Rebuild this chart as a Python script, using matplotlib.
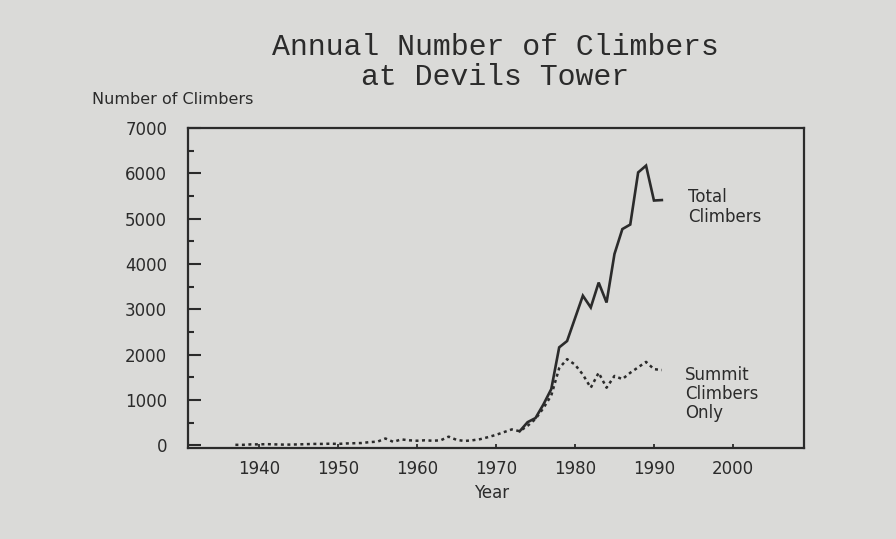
import matplotlib.pyplot as plt
from matplotlib.ticker import MultipleLocator

# total climbers (solid line)
total_years = list(range(1973, 1992))
total_climbers = [310, 510, 600, 900, 1240, 2160, 2300, 2800, 3300, 3040,
                  3590, 3150, 4220, 4770, 4870, 6020, 6170, 5400, 5410]

# summit climbers only (dotted line)
summit_years = list(range(1937, 1992))
summit_climbers = [10, 10, 20, 20, 25, 20, 15, 15, 20, 25,
                   30, 30, 35, 30, 40, 45, 50, 70, 80, 150,
                   75, 130, 110, 100, 110, 100, 110, 190, 120, 95,
                   110, 135, 180, 230, 290, 350, 310, 430, 580, 820,
                   1100, 1700, 1900, 1780, 1560, 1270, 1600, 1270, 1530, 1460,
                   1600, 1720, 1840, 1680, 1660]

x_ticks = [1940, 1950, 1960, 1970, 1980, 1990, 2000]
y_ticks = [0, 1000, 2000, 3000, 4000, 5000, 6000, 7000]

paper = '#dadad8'
ink = '#2b2b2b'
W, H = 896, 539

plt.rcParams['font.family'] = ['DejaVu Sans']

fig = plt.figure(figsize=(W / 100, H / 100), dpi=100, facecolor=paper)
ax = fig.add_axes([188 / W, 1 - 448 / H, (804 - 188) / W, (448 - 128) / H])
ax.set_facecolor(paper)

ax.plot(total_years, total_climbers, color=ink, lw=1.9, solid_joinstyle='miter')
ax.plot(summit_years, summit_climbers, color=ink, lw=1.8, linestyle=(0, (1.2, 1.4)))

ax.set_xlim(1931, 2009)
ax.set_ylim(-60, 7000)
ax.set_xticks(x_ticks)
ax.set_yticks(y_ticks)
ax.yaxis.set_minor_locator(MultipleLocator(500))

for s in ax.spines.values():
    s.set_color(ink)
    s.set_linewidth(1.6)

ax.tick_params(axis='y', which='major', direction='in', length=9.5, width=1.5,
               pad=15, labelsize=12, colors=ink)
ax.tick_params(axis='y', which='minor', direction='in', length=4.5, width=1.5, colors=ink)
ax.tick_params(axis='x', direction='in', length=3, width=1.3, pad=9,
               labelsize=12, colors=ink)

fig.text(495 / W, 1 - 47 / H, 'Annual Number of Climbers', family='Liberation Mono',
         fontsize=21.5, color=ink, ha='center', va='center')
fig.text(495 / W, 1 - 77 / H, 'at Devils Tower', family='Liberation Mono',
         fontsize=21.5, color=ink, ha='center', va='center')

fig.text(92 / W, 1 - 100 / H, 'Number of Climbers', fontsize=11.5, color=ink,
         ha='left', va='center')
fig.text(492 / W, 1 - 493 / H, 'Year', fontsize=12, color=ink,
         ha='center', va='center')

fig.text(688 / W, 1 - 207 / H, 'Total\nClimbers', fontsize=12, color=ink,
         ha='left', va='center', linespacing=1.1)
fig.text(685 / W, 1 - 394 / H, 'Summit\nClimbers\nOnly', fontsize=12, color=ink,
         ha='left', va='center', linespacing=1.1)

fig.savefig('out.png', dpi=100, facecolor=paper)
